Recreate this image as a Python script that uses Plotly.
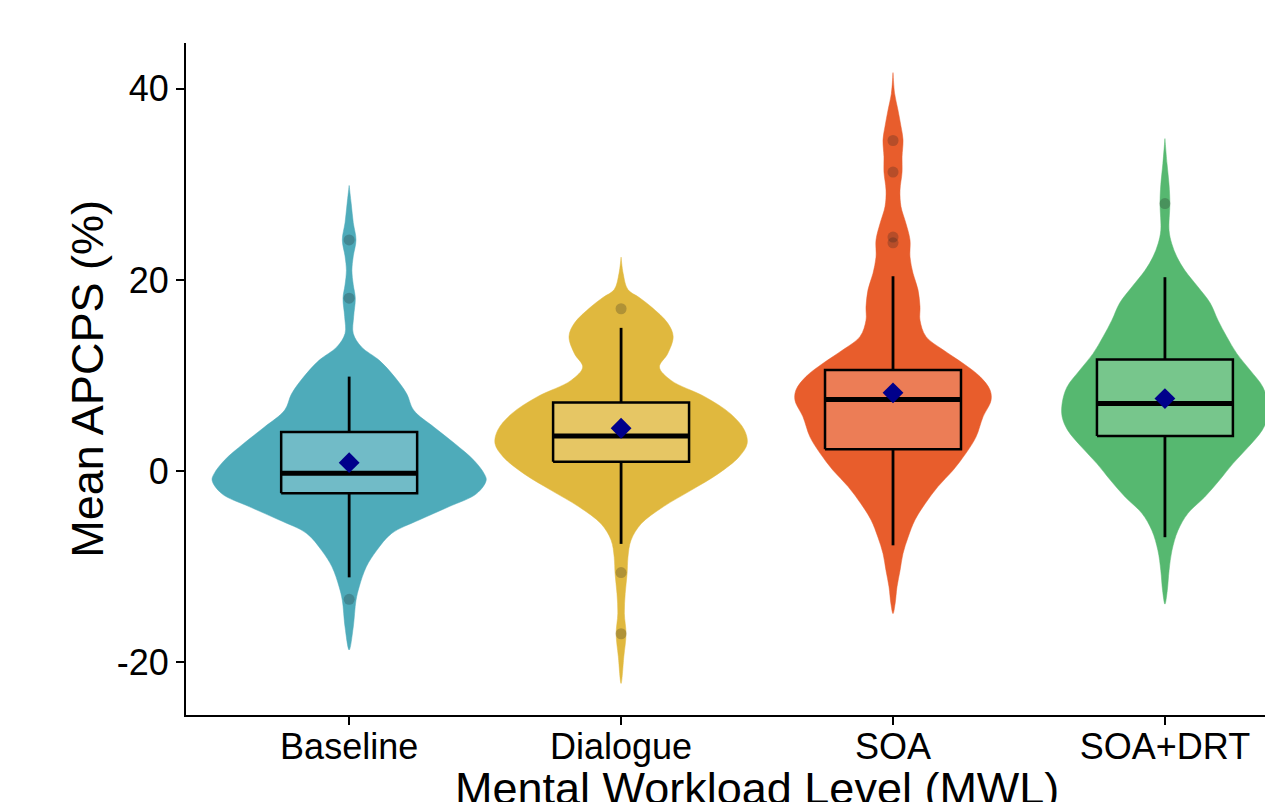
import plotly.graph_objects as go

# ---- data -----------------------------------------------------------------
categories = ["Baseline", "Dialogue", "SOA", "SOA+DRT"]

# Kernel density outlines: value (%) and relative density
baseline_kde_y = [29.9, 28.0, 26.0, 24.2, 22.5, 21.0, 19.5, 18.1, 16.2, 14.4, 13.0, 11.6,
                  9.9, 8.1, 6.4, 4.6, 2.9, 1.15, -0.25, -0.94, -2.34, -3.7, -5.1, -6.5,
                  -8.3, -10.0, -12.1, -13.5, -16.3, -18.7]
baseline_kde_d = [0, .015, .03, .05, .03, .02, .03, .045, .033, .03, .09, .22,
                  .33, .42, .47, .62, .77, .91, .985, 1.0, .93, .73, .51, .31,
                  .2, .125, .073, .05, .03, 0]

dialogue_kde_y = [22.4, 20.7, 19.0, 18.2, 17.2, 15.5, 14.1, 12.3, 10.9, 9.5, 7.8, 6.0,
                  4.3, 2.9, 1.5, -0.25, -2.0, -3.7, -5.5, -7.2, -9.0, -10.7, -12.8,
                  -14.9, -17.0, -19.4, -22.2]
dialogue_kde_d = [0, .015, .05, .13, .22, .34, .38, .34, .28, .365, .61, .8,
                  .9, .92, .86, .71, .51, .31, .146, .073, .05, .044, .03,
                  .024, .036, .02, 0]

soa_kde_y = [41.7, 39.5, 37.8, 36.1, 34.7, 32.9, 31.3, 29.4, 27.7, 25.9, 24.2, 22.4,
             20.7, 19.0, 17.2, 15.8, 14.1, 12.7, 11.3, 9.9, 8.5, 7.4, 5.7, 3.6, 1.9,
             0.1, -1.6, -3.4, -5.1, -6.9, -8.6, -10.4, -12.1, -13.9, -14.9]
soa_kde_d = [0, .012, .036, .058, .073, .066, .066, .051, .058, .095, .124, .124,
             .146, .182, .197, .197, .24, .365, .51, .635, .708, .715, .657, .606, .533,
             .438, .328, .234, .16, .11, .073, .051, .029, .015, 0]

soadrt_kde_y = [34.8, 32.2, 30.0, 28.0, 25.2, 23.8, 22.4, 21.0, 19.3, 17.6, 15.8, 14.1,
                12.3, 10.6, 8.8, 7.1, 5.7, 4.3, 2.5, 0.8, -0.9, -2.7, -4.4, -6.2, -8.3,
                -10.4, -12.5, -13.9]
soadrt_kde_d = [0, .015, .03, .036, .03, .05, .088, .146, .24, .33, .387, .45,
                .525, .62, .715, .75, .75, .71, .606, .496, .4, .29, .168, .095, .051,
                .03, .017, 0]

# Box-plot summaries
q1 = [-2.3, 1.0, 2.3, 3.7]
medians = [-0.2, 3.7, 7.5, 7.1]
q3 = [4.1, 7.2, 10.6, 11.7]
whisker_low = [-11.1, -7.6, -7.75, -6.9]
whisker_high = [9.9, 15.0, 20.4, 20.3]
means = [0.9, 4.5, 8.2, 7.6]
outliers = [[24.2, 18.1, -13.4], [17.0, -10.6, -17.0], [34.6, 31.3, 24.5, 23.9], [28.0]]

kde_y = [baseline_kde_y, dialogue_kde_y, soa_kde_y, soadrt_kde_y]
kde_d = [baseline_kde_d, dialogue_kde_d, soa_kde_d, soadrt_kde_d]

# ---- style ----------------------------------------------------------------
colors = ["#4EABBA", "#E0B83E", "#E85D2C", "#56B870"]
HALF_WIDTH = 0.504      # half-width of a violin at density 1 (category units)
BOX_HALF = 0.25         # half-width of the box (category units)
FONT = "Liberation Sans, Arial, Helvetica, sans-serif"

fig = go.Figure()


def add_line(xs, ys, width):
    fig.add_trace(go.Scatter(
        x=xs, y=ys, mode="lines", line=dict(color="black", width=width),
        hoverinfo="skip", showlegend=False,
    ))


for i, cat in enumerate(categories):
    # violin body
    ys, ds = kde_y[i], kde_d[i]
    right_x = [i + d * HALF_WIDTH for d in ds[::-1]]
    left_x = [i - d * HALF_WIDTH for d in ds]
    fig.add_trace(go.Scatter(
        x=right_x + left_x, y=ys[::-1] + ys,
        mode="lines", fill="toself", fillcolor=colors[i],
        line=dict(color=colors[i], width=0.5, shape="spline", smoothing=1.0),
        hoverinfo="skip", showlegend=False, name=cat,
    ))

    # whiskers
    add_line([i, i], [q3[i], whisker_high[i]], 2.8)
    add_line([i, i], [whisker_low[i], q1[i]], 2.8)

    # box
    fig.add_trace(go.Scatter(
        x=[i - BOX_HALF, i + BOX_HALF, i + BOX_HALF, i - BOX_HALF, i - BOX_HALF],
        y=[q1[i], q1[i], q3[i], q3[i], q1[i]],
        mode="lines", fill="toself", fillcolor="rgba(255,255,255,0.2)",
        line=dict(color="black", width=2.5),
        hoverinfo="skip", showlegend=False,
    ))
    # median bar
    add_line([i - BOX_HALF, i + BOX_HALF], [medians[i], medians[i]], 5)

    # outlying observations
    fig.add_trace(go.Scatter(
        x=[i] * len(outliers[i]), y=outliers[i], mode="markers",
        marker=dict(size=11, color="rgba(30,30,30,0.25)", line=dict(width=0)),
        hoverinfo="skip", showlegend=False,
    ))

# group means
fig.add_trace(go.Scatter(
    x=list(range(len(categories))), y=means, mode="markers",
    marker=dict(symbol="diamond", size=16, color="#00008B", line=dict(width=0)),
    hoverinfo="skip", showlegend=False,
))

fig.update_layout(
    width=1265, height=802,
    margin=dict(l=186, r=0, t=43, b=87),
    paper_bgcolor="white", plot_bgcolor="white",
    font=dict(family=FONT, color="black"),
    showlegend=False,
    xaxis=dict(
        range=[-0.6, 3.368], tickmode="array",
        tickvals=list(range(len(categories))), ticktext=categories,
        showline=True, linecolor="black", linewidth=2,
        ticks="outside", ticklen=8, tickwidth=1.5, tickcolor="black",
        ticklabelstandoff=-9,
        tickfont=dict(size=36, color="black", family=FONT),
        showgrid=False, zeroline=False, fixedrange=True,
    ),
    yaxis=dict(
        range=[-25.5, 44.8], tickmode="array", tickvals=[-20, 0, 20, 40],
        ticktext=["-20", "0", "20", "40"],
        showline=True, linecolor="black", linewidth=2,
        ticks="outside", ticklen=8, tickwidth=1.5, tickcolor="black",
        tickfont=dict(size=36, color="black", family=FONT),
        showgrid=False, zeroline=False, fixedrange=True,
    ),
    annotations=[
        dict(text="Mental Workload Level (MWL)", xref="paper", yref="paper",
             x=0.529, y=-0.069, xanchor="center", yanchor="top", showarrow=False,
             font=dict(size=45, color="black", family=FONT)),
        dict(text="Mean APCPS (%)", xref="paper", yref="paper",
             x=-0.092, y=0.5, xanchor="center", yanchor="middle", textangle=-90,
             showarrow=False, font=dict(size=45, color="black", family=FONT)),
    ],
)

fig.write_html("out.html")
